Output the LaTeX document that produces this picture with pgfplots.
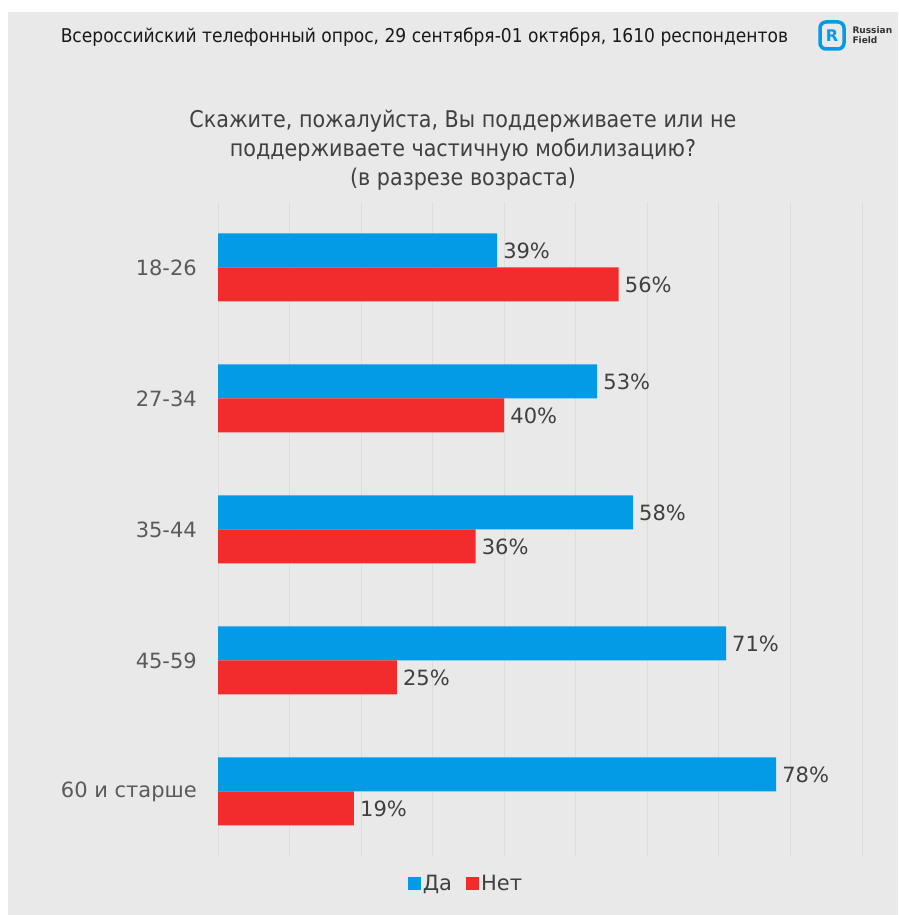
\documentclass[border=0pt]{standalone}
\usepackage{pgfplots}
\pgfplotsset{compat=1.18}
\usepackage{fontspec}
\setmainfont{DejaVu Sans}
\newfontfamily\condensed{DejaVu Sans Condensed}
\definecolor{bgc}{RGB}{233,233,233}
\definecolor{gridc}{RGB}{221,221,221}
\definecolor{dablue}{RGB}{3,155,229}
\definecolor{netred}{RGB}{242,44,44}
\definecolor{lbl}{RGB}{64,64,64}
\definecolor{tickc}{RGB}{90,90,90}
\begin{document}
\begin{tikzpicture}[x=1pt,y=1pt]
\useasboundingbox (0,0) rectangle (898,915);
\fill[white] (0,0) rectangle (898,915);
\fill[bgc] (8,0) rectangle (898,903);
% header
\node[text=black!90, font=\condensed\fontsize{19}{22}\selectfont] at (424.5,878) {Всероссийский телефонный опрос, 29 сентября-01 октября, 1610 респондентов};
% logo
\draw[dablue, line width=3.5pt, rounded corners=6pt] (820,866) rectangle (844,893);
\node[text=dablue, font=\bfseries\fontsize{16}{16}\selectfont] at (832,879.5) {R};
\node[anchor=west, text=black!80, font=\bfseries\fontsize{9}{10}\selectfont, align=left] at (849,880) {Russian\\Field};
% question
\node[text=lbl, font=\condensed\fontsize{23}{29}\selectfont, align=center] at (463,765) {Скажите, пожалуйста, Вы поддерживаете или не\\поддерживаете частичную мобилизацию?\\(в разрезе возраста)};
\begin{axis}[
  at={(218pt,58pt)}, anchor=south west,
  scale only axis, width=644pt, height=655pt,
  xmin=0, xmax=90, ymin=-0.5, ymax=4.5,
  xbar, bar width=34pt,
  axis line style={draw=none},
  xtick={0,10,...,90}, xticklabels={},
  xmajorgrids=true, ymajorgrids=false,
  grid style={draw=gridc, line width=0.8pt},
  major tick length=0pt, tick style={draw=none},
  ytick={0,1,2,3,4},
  yticklabels={60 и старше,45-59,35-44,27-34,18-26},
  yticklabel style={text=tickc, font=\fontsize{21}{24}\selectfont, anchor=east, inner sep=0pt, xshift=-21pt},
  nodes near coords={\pgfplotspointmeta\%},
  nodes near coords style={text=lbl, font=\fontsize{21}{24}\selectfont, anchor=west, inner sep=0pt, xshift=6pt},
  point meta=explicit symbolic,
  legend columns=2,
  legend style={at={(0.385,-0.041)}, anchor=center, draw=none, fill=none,
    font=\fontsize{21}{24}\selectfont, text=lbl,
    /tikz/every even column/.append style={column sep=12pt}},
  legend image code/.code={\fill[#1] (0pt,-6.5pt) rectangle (13pt,6.5pt);},
]
\addplot+[bar shift=17pt, draw=none, fill=dablue] coordinates {(39,4)[39] (53,3)[53] (58,2)[58] (71,1)[71] (78,0)[78]};
\addplot+[bar shift=-17pt, draw=none, fill=netred] coordinates {(56,4)[56] (40,3)[40] (36,2)[36] (25,1)[25] (19,0)[19]};
\legend{Да,Нет}
\end{axis}
\end{tikzpicture}
\end{document}
